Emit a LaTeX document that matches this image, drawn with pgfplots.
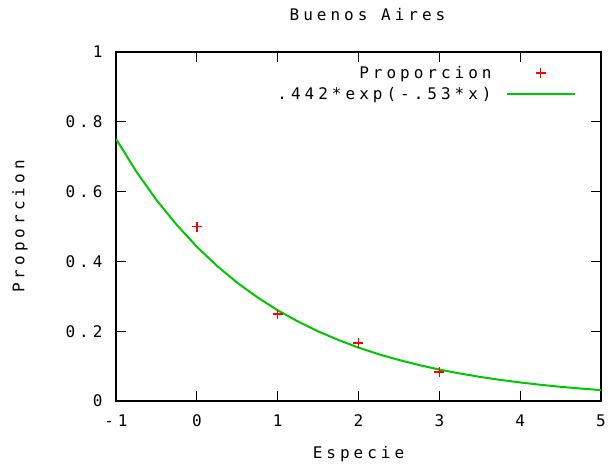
\documentclass[border=0pt]{standalone}
\usepackage{pgfplots}
\pgfplotsset{compat=1.18}
\usepackage{fontspec}
\newfontfamily\gp[LetterSpace=25]{DejaVu Sans Mono}
\definecolor{gpgreen}{RGB}{0,200,0}
\begin{document}
\begin{tikzpicture}
\begin{axis}[
    scale only axis,
    width=485pt,
    height=349pt,
    xmin=-1, xmax=5,
    ymin=0, ymax=1,
    xtick={-1,0,1,2,3,4,5},
    xticklabels={-1,0,1,2,3,4,5},
    ytick={0,0.2,0.4,0.6,0.8,1},
    yticklabels={0,0.2,0.4,0.6,0.8,1},
    tick align=inside,
    tick pos=both,
    major tick length=10pt,
    axis line style={line width=1.2pt},
    every tick/.style={black, line width=1.2pt},
    font=\gp\fontsize{16}{19}\selectfont,
    xticklabel style={anchor=center, yshift=-20pt},
    yticklabel style={anchor=east, xshift=-10pt},
    xlabel={Especie},
    ylabel={Proporcion},
    title={Buenos Aires},
    xlabel style={at={(axis description cs:0.5,0)}, anchor=center, yshift=-53pt},
    ylabel style={at={(axis description cs:0,0.5)}, anchor=center, yshift=96pt},
    title style={at={(axis description cs:0.5,1)}, anchor=center, yshift=31pt, xshift=9pt},
    legend style={draw=none, fill=none, at={(axis description cs:1,1)}, anchor=north east,
        xshift=-22pt, yshift=-10pt, row sep=3pt, column sep=12pt,
        font=\gp\fontsize{16}{19}\selectfont},
    legend cell align=right,
    legend plot pos=right,
]
\addplot[only marks, red, mark=+, mark size=5pt,
    mark options={solid, draw=red, line width=1.5pt},
    legend image code/.code={\draw[red, line width=1.5pt] (29pt,0pt) -- (39pt,0pt) (34pt,-5pt) -- (34pt,5pt); \path (0pt,0pt) (68pt,0pt);}] coordinates {
(0,0.5)
(1,0.25)
(2,0.1667)
(3,0.0833)
};
\addlegendentry{Proporcion}
\addplot[gpgreen, line width=2pt,
    legend image code/.code={\draw[gpgreen, line width=2.2pt] (0pt,0pt) -- (68pt,0pt);}] coordinates {
(-1,0.751) (-0.75,0.658) (-0.5,0.576) (-0.25,0.505)
(0,0.442) (0.25,0.387) (0.5,0.339) (0.75,0.297)
(1,0.260) (1.25,0.228) (1.5,0.1996) (1.75,0.175)
(2,0.153) (2.25,0.134) (2.5,0.1175) (2.75,0.103)
(3,0.0901) (3.25,0.0790) (3.5,0.0692) (3.75,0.0606)
(4,0.0531) (4.25,0.0465) (4.5,0.0407) (4.75,0.0357)
(5,0.0312)
};
\addlegendentry{.442*exp(-.53*x)}
\end{axis}
\pgfresetboundingbox
\path (-116pt,-66pt) rectangle (495pt,401pt);
\end{tikzpicture}
\end{document}
